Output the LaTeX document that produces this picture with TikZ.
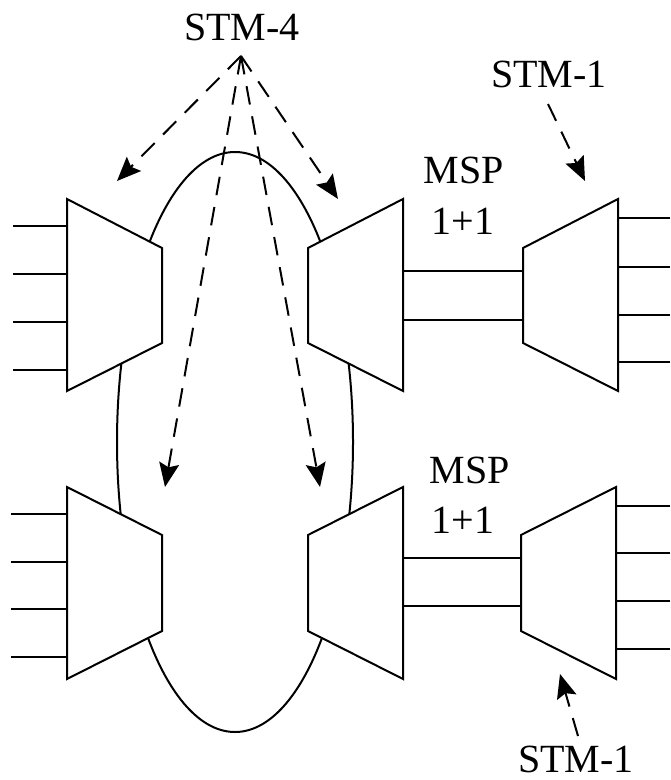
\documentclass[tikz,border=0pt]{standalone}
\usepackage{fontspec}
\setmainfont{Liberation Serif}
\usetikzlibrary{arrows.meta,shapes.geometric}
\tikzset{
 mux/.style={draw=black,line width=1.5pt,fill=white,line join=miter},
 wire/.style={draw=black,line width=1.5pt},
 lbl/.style={font=\fontsize{30}{32}\selectfont,inner sep=0pt,text=black},
 dasharrow/.style={draw=black,line width=1.5pt,dash pattern=on 14pt off 9pt,-{Stealth[length=18pt,width=15pt,inset=3pt]}},
}
\begin{document}
\begin{tikzpicture}[x=0.75pt,y=-0.75pt]
\useasboundingbox (0,0) rectangle (670,780);
% ring
\node[draw=black,line width=1.5pt,ellipse,minimum width=177pt,minimum height=435pt,inner sep=0pt] (ring) at (235,442) {};
% muxes
\draw[mux] (67,199) -- (162,248) -- (162,343) -- (67,391) -- cycle;
\draw[mux] (403,199) -- (308,248) -- (308,343) -- (403,391) -- cycle;
\draw[mux] (67,487) -- (162,535) -- (162,631) -- (67,679) -- cycle;
\draw[mux] (403,487) -- (308,535) -- (308,631) -- (403,679) -- cycle;
\draw[mux] (618,199) -- (523,248) -- (523,343) -- (618,391) -- cycle;
\draw[mux] (616,487) -- (521,535) -- (521,631) -- (616,679) -- cycle;
% tributaries
\foreach \y in {226,274,322,370}{\coordinate (a\y) at (13,\y); \coordinate (b\y) at (67,\y); \draw[wire] (a\y) -- (b\y);}
\foreach \y in {514,562,609,657}{\coordinate (a\y) at (11,\y); \coordinate (b\y) at (67,\y); \draw[wire] (a\y) -- (b\y);}
\foreach \y in {218,267,315,362}{\coordinate (c\y) at (618,\y); \coordinate (d\y) at (670,\y); \draw[wire] (c\y) -- (d\y);}
\foreach \y in {506,553,601,649}{\coordinate (c\y) at (616,\y); \coordinate (d\y) at (670,\y); \draw[wire] (c\y) -- (d\y);}
% MSP
\coordinate (m1) at (403,271); \coordinate (m2) at (523,271); \draw[wire] (m1) -- (m2);
\coordinate (m3) at (403,320); \coordinate (m4) at (523,320); \draw[wire] (m3) -- (m4);
\coordinate (m5) at (403,558); \coordinate (m6) at (521,558); \draw[wire] (m5) -- (m6);
\coordinate (m7) at (403,606); \coordinate (m8) at (521,606); \draw[wire] (m7) -- (m8);
% labels
\node[lbl] (s4) at (242,27) {STM-4};
\node[lbl] (s1a) at (549,74) {STM-1};
\node[lbl] (s1b) at (576,759) {STM-1};
\node[lbl] (msp1) at (464,170) {MSP};
\node[lbl] (o1) at (463,221) {1+1};
\node[lbl] (msp2) at (470,470) {MSP};
\node[lbl] (o2) at (463,520) {1+1};
% arrows
\coordinate (h) at (241,56);
\coordinate (t1) at (117,181); \coordinate (t2) at (338,199);
\coordinate (t3) at (165,487); \coordinate (t4) at (320,487);
\draw[dasharrow] (h) -- (t1);
\draw[dasharrow] (h) -- (t2);
\draw[dasharrow] (h) -- (t3);
\draw[dasharrow] (h) -- (t4);
\coordinate (u1) at (548,104); \coordinate (u2) at (585,181);
\draw[dasharrow] (u1) -- (u2);
\coordinate (v1) at (578,736); \coordinate (v2) at (560,674);
\draw[dasharrow] (v1) -- (v2);
\end{tikzpicture}
\end{document}
